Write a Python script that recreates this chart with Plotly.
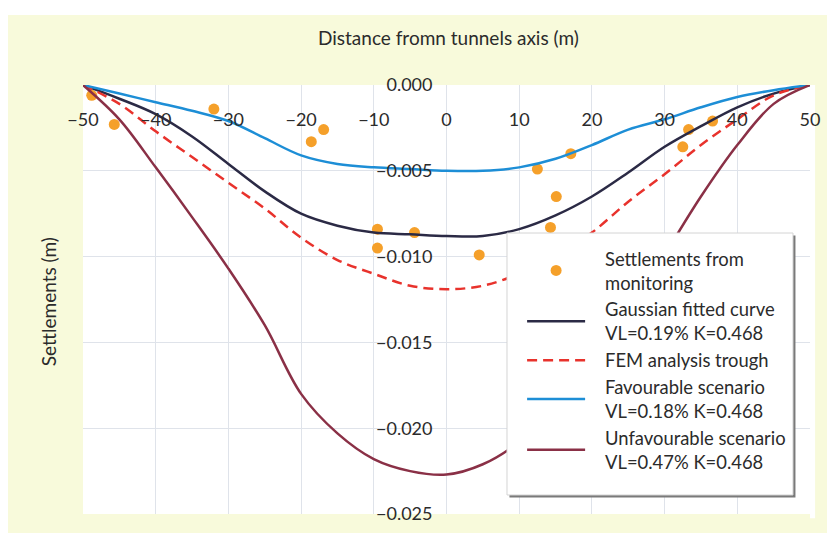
import plotly.graph_objects as go

# ---------------- data ----------------
dist = [-50, -45, -40, -35, -30, -25, -20, -15, -10, -5, 0, 5, 10, 15, 20, 25, 30, 35, 40, 45, 50]

gaussian_fit = [0.0, -0.0008, -0.0017, -0.0030, -0.0046, -0.0062, -0.0075, -0.0082, -0.0086, -0.0087,
                -0.0088, -0.0088, -0.0084, -0.0076, -0.0065, -0.0051, -0.0036, -0.0024, -0.0013, -0.0005, 0.0]
fem_trough = [0.0, -0.0011, -0.0027, -0.0042, -0.0057, -0.0072, -0.0089, -0.0102, -0.0110, -0.0117,
              -0.0119, -0.0117, -0.0110, -0.0100, -0.0086, -0.0068, -0.0052, -0.0035, -0.0020, -0.0006, 0.0]
favourable = [0.0, -0.0005, -0.0010, -0.0015, -0.0021, -0.0031, -0.0041, -0.0046, -0.0048, -0.0049,
              -0.0050, -0.0050, -0.0048, -0.0043, -0.0035, -0.0026, -0.0020, -0.0013, -0.0007, -0.0003, 0.0]
unfavourable = [0.0, -0.0020, -0.0048, -0.0077, -0.0107, -0.0140, -0.0180, -0.0203, -0.0218, -0.0225,
                -0.0227, -0.0221, -0.0208, -0.0188, -0.0163, -0.0133, -0.0099, -0.0065, -0.0035, -0.0011, 0.0]

monitor_x = [-48.8, -45.7, -32.0, -18.6, -16.9, -9.5, -9.5, -4.4, 4.5, 12.5, 17.1, 15.1, 14.3, 32.5, 33.3, 36.6]
monitor_y = [-0.0006, -0.0023, -0.0014, -0.0033, -0.0026, -0.0084, -0.0095, -0.0086, -0.0099,
             -0.0049, -0.0040, -0.0065, -0.0083, -0.0036, -0.0026, -0.0021]

x_ticks = [-50, -40, -30, -20, -10, 0, 10, 20, 30, 40, 50]
y_ticks = [0.0, -0.005, -0.010, -0.015, -0.020, -0.025]
y_tick_text = ["0.000", "\u22120.005", "\u22120.010", "\u22120.015", "\u22120.020", "\u22120.025"]
x_tick_text = [("\u2212" + str(abs(v))) if v < 0 else str(v) for v in x_ticks]

legend_names = [
    "Settlements from<br>monitoring",
    "Gaussian fitted curve<br>VL=0.19% K=0.468",
    "FEM analysis trough",
    "Favourable scenario<br>VL=0.18% K=0.468",
    "Unfavourable scenario<br>VL=0.47% K=0.468",
]

# ---------------- style ----------------
FONT = "Lato"
TXT = "#2b2b2b"
BG = "#f8fadb"
PAD = "\u2003\u200a"  # gap between legend symbol and text


def lname(s):
    return "<br>".join(PAD + part for part in s.split("<br>"))


fig = go.Figure()

fig.add_trace(go.Scatter(x=monitor_x, y=monitor_y, mode="markers",
                         marker=dict(color="#f5a02a", size=11),
                         name=lname(legend_names[0]), legendgroup="a"))
fig.add_trace(go.Scatter(x=dist, y=gaussian_fit, mode="lines", line_shape="spline",
                         line=dict(color="#2b2a45", width=2.5),
                         name=lname(legend_names[1]), legendgroup="b"))
fig.add_trace(go.Scatter(x=dist, y=fem_trough, mode="lines", line_shape="spline",
                         line=dict(color="#e8322c", width=2.5, dash="10px,6px"),
                         name=lname(legend_names[2]), legendgroup="c"))
fig.add_trace(go.Scatter(x=dist, y=favourable, mode="lines", line_shape="spline",
                         line=dict(color="#1d8ed6", width=2.5),
                         name=lname(legend_names[3]), legendgroup="d"))
fig.add_trace(go.Scatter(x=dist, y=unfavourable, mode="lines", line_shape="spline",
                         line=dict(color="#8a3046", width=2.5),
                         name=lname(legend_names[4]), legendgroup="e"))

fig.update_layout(
    width=827, height=525,
    margin=dict(l=75, r=25, t=77, b=19),
    paper_bgcolor=BG, plot_bgcolor="white",
    font=dict(family=FONT, size=18, color=TXT),
    showlegend=True,
    legend=dict(x=0.604, y=0.6387, xanchor="left", yanchor="top",
                bgcolor="rgba(0,0,0,0)", borderwidth=0,
                font=dict(family=FONT, size=18.4, color=TXT),
                itemwidth=58, tracegroupgap=10, traceorder="normal"),
    xaxis=dict(range=[-50, 50], tickvals=x_ticks, ticktext=x_tick_text,
               anchor="free", position=1.0, side="bottom",
               showgrid=True, gridcolor="#dfe3ea", gridwidth=1,
               zeroline=False, showline=False, ticks="", ticklabelstandoff=22,
               tickfont=dict(family=FONT, size=18, color=TXT), automargin=False),
    yaxis=dict(range=[-0.025, 0.0], tickvals=y_ticks, ticktext=y_tick_text,
               anchor="free", position=0.5, side="left",
               showgrid=True, gridcolor="#dfe3ea", gridwidth=1,
               zeroline=False, showline=False, ticks="", ticklabelstandoff=14,
               tickfont=dict(family=FONT, size=18, color=TXT), automargin=False),
)

# white scan margin at the top
fig.add_shape(type="rect", xref="paper", yref="paper", x0=-0.3, x1=1.3, y0=1.163, y1=1.4,
              fillcolor="white", line_width=0, layer="below")
# white band just outside the right edge of the plot
fig.add_shape(type="rect", xref="paper", yref="paper", x0=1.0, x1=1.007, y0=-0.01, y1=1.0,
              fillcolor="white", line_width=0, layer="below")

# legend box with shadow
fig.add_shape(type="rect", xref="paper", yref="paper", x0=0.5866, x1=0.9800, y0=0.0385, y1=0.649,
              fillcolor="#7a7a7a", line_width=0, layer="above")
fig.add_shape(type="rect", xref="paper", yref="paper", x0=0.5832, x1=0.9766, y0=0.0443, y1=0.655,
              fillcolor="white", line=dict(color="#d4d4d4", width=1), layer="above")

# axis titles
fig.add_annotation(text="Distance fromn tunnels axis (m)", xref="paper", yref="paper",
                   x=0.503, y=1.11, showarrow=False, xanchor="center", yanchor="middle",
                   font=dict(family=FONT, size=19, color=TXT))
fig.add_annotation(text="Settlements (m)", xref="paper", yref="paper",
                   x=-0.048, y=0.494, showarrow=False, textangle=-90,
                   xanchor="center", yanchor="middle",
                   font=dict(family=FONT, size=19, color=TXT))

fig.write_html("out.html")
